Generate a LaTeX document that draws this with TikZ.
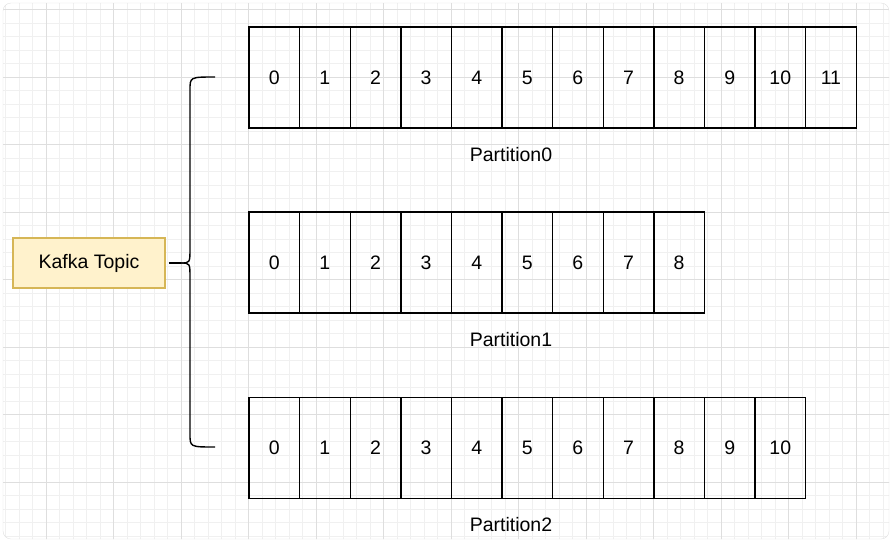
\documentclass[tikz,border=0pt]{standalone}
\usepackage{fontspec}
\setmainfont{Liberation Sans}
\usetikzlibrary{positioning}
\definecolor{topicfill}{HTML}{FFF2CC}
\definecolor{topicline}{HTML}{D6B656}
\tikzset{
    cell/.style={draw, line width=1.4pt, minimum width=50.6pt, minimum height=101pt, inner sep=0pt, font=\fontsize{19.5}{23}\selectfont, outer sep=0pt},
    plabel/.style={font=\fontsize{19.5}{23}\selectfont},
    topic/.style={draw=topicline, line width=1.4pt, fill=topicfill, minimum width=152pt, minimum height=50pt, font=\fontsize{19.5}{23}\selectfont}
}
\begin{document}
\begin{tikzpicture}[x=1pt, y=-1pt]
    \useasboundingbox (0,0) rectangle (892,542);
    % Grid background
    \begin{scope}
        \clip[rounded corners=8pt] (3,3) rectangle (889,539);
        \fill[white] (3,3) rectangle (889,539);
        \foreach \x in {0,13.5,...,892} \draw[black!6] (\x+5.5,0) -- (\x+5.5,542);
        \foreach \y in {0,13.5,...,542} \draw[black!6] (0,\y+9.5) -- (892,\y+9.5);
        \foreach \x in {0,67.5,...,892} \draw[black!13] (\x+46,0) -- (\x+46,542);
        \foreach \y in {0,67.5,...,542} \draw[black!13] (0,\y+9.5) -- (892,\y+9.5);
    \end{scope}
    \draw[black!12, rounded corners=8pt] (3,3) rectangle (889,539);

    % Topic box
    \node[topic] (topic) at (89,263) {Kafka Topic};

    % Partitions: row, number of cells, centre y
    \foreach \p/\n/\y in {0/11/77.5, 1/8/262.5, 2/10/448} {
        \foreach \i in {0,...,\n} {
            \node[cell] (p\p c\i) at (274.3+50.6*\i,\y) {\i};
        }
        \node[plabel] (label\p) at (511,\y+77) {Partition\p};
    }

    % Brace
    \coordinate (bracetop) at (215,77);
    \coordinate (bracebottom) at (215,447);
    \draw[line width=1.4pt] (topic.east) ++(3,0) -- ++(12,0) coordinate (mid);
    \draw[line width=1.4pt] (mid) .. controls (190,263) .. (190,248) -- (190,90) .. controls (190,77) .. (bracetop);
    \draw[line width=1.4pt] (mid) .. controls (190,263) .. (190,278) -- (190,434) .. controls (190,447) .. (bracebottom);
\end{tikzpicture}
\end{document}
